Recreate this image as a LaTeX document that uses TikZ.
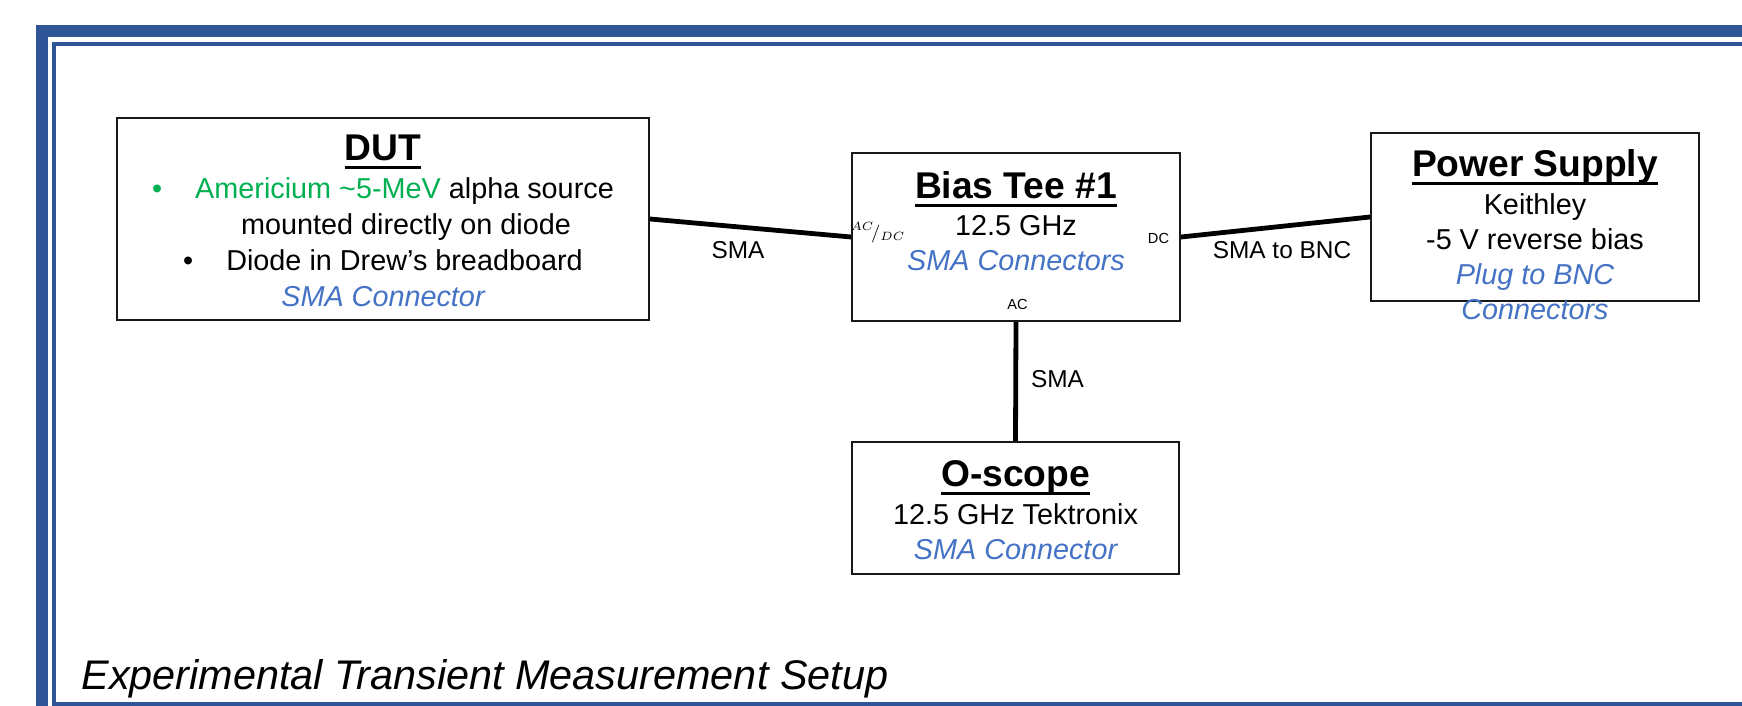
\documentclass[tikz,border=0pt]{standalone}
\usepackage{fontspec}
\setmainfont{Liberation Sans}
\usetikzlibrary{positioning}

\definecolor{frameblue}{HTML}{2F5597}
\definecolor{linkblue}{HTML}{4472C4}
\definecolor{srcgreen}{HTML}{00B050}

% bold underlined heading of a box
\newcommand{\uhead}[1]{{\fontsize{18.6pt}{20pt}\selectfont\bfseries\setbox0\hbox{#1}\rlap{\rule[-4.3pt]{\wd0}{1.6pt}}\box0}}

\tikzset{
  box/.style={draw=black!90, line width=1pt, inner sep=0pt},
  boxtext/.style={align=center, inner sep=0pt, font=\fontsize{14.4pt}{17.6pt}\selectfont},
  cable/.style={line width=2.4pt, black},
  cablelabel/.style={inner sep=0pt, font=\fontsize{12.2pt}{14pt}\selectfont},
  port/.style={inner sep=0pt, font=\fontsize{7.3pt}{8pt}\selectfont},
}

\begin{document}
\begin{tikzpicture}[x=0.5pt, y=-0.5pt]
    \useasboundingbox (0,0) rectangle (1742,706);
    \clip (0,0) rectangle (1742,706);

    % page frame
    \draw[frameblue, line width=6pt] (42,730) -- (42,31.3) -- (1760,31.3);
    \draw[frameblue, line width=2pt] (54,44) rectangle (1760,704);

    % equipment boxes
    \node[box, minimum width=266pt, minimum height=101pt] (dut) at (383,219) {};
    \node[box, minimum width=164pt, minimum height=84pt] (tee) at (1016,237) {};
    \node[box, minimum width=164pt, minimum height=83.7pt] (psu) at (1535,217) {};
    \node[box, minimum width=163.5pt, minimum height=66pt] (scope) at (1015.5,508) {};

    \node[boxtext, font=\fontsize{14.4pt}{17.9pt}\selectfont, below=8.8pt of dut.north] (dutText) {%
        \uhead{DUT}\\[1.2pt]
        {\color{srcgreen}\textbullet\hspace{16.5pt}Americium \textasciitilde5-MeV} alpha source\\
        \hspace*{23pt}mounted directly on diode\\
        \textbullet\hspace{16.5pt}Diode in Drew’s breadboard\\
        {\color{linkblue}\itshape SMA Connector}};
    \node[boxtext, below=9.5pt of tee.north] (teeText) {%
        \uhead{Bias Tee \#1}\\[0.8pt]
        12.5 GHz\\
        {\color{linkblue}\itshape SMA Connectors}};
    \node[boxtext, below=8.3pt of psu.north] (psuText) {%
        \uhead{Power Supply}\\[1.4pt]
        Keithley\\
        -5 V reverse bias\\
        {\color{linkblue}\itshape Plug to BNC}\\
        {\color{linkblue}\itshape Connectors}};
    \node[boxtext, below=9.6pt of scope.north] (scopeText) {%
        \uhead{O-scope}\\[1.4pt]
        12.5 GHz Tektronix\\
        {\color{linkblue}\itshape SMA Connector}};

    % port names on the bias tee
    \node[port] (portRF) at (878,232.4) {\fontsize{9pt}{10pt}\selectfont$^{AC}\!/_{DC}$};
    \node[port] (portDC) at (1158.5,238.7) {DC};
    \node[port] (portAC) at (1017.5,304.7) {AC};

    % cables
    \draw[cable] (dut.east) -- (tee.west);
    \draw[cable] (tee.east) -- (psu.west);
    \draw[cable] (tee.south) -- (scope.north);

    \node[cablelabel] (lblDut) at (738,250) {SMA};
    \node[cablelabel] (lblPsu) at (1282,250) {SMA to BNC};
    \node[cablelabel] (lblScope) at (1057.5,379) {SMA};

    \node[anchor=base west, inner sep=0pt, font=\fontsize{20.7pt}{24pt}\selectfont\itshape] (caption) at (81,689.3)
        {Experimental Transient Measurement Setup};
\end{tikzpicture}
\end{document}
